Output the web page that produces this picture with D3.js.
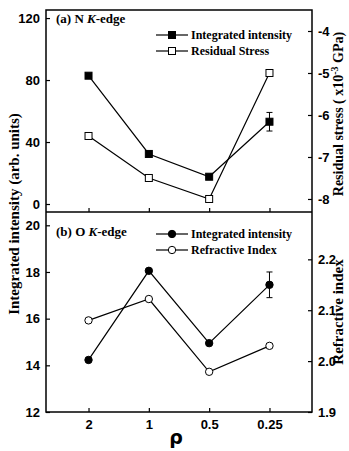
<!DOCTYPE html>
<html><head><meta charset="utf-8">
<script src="https://cdn.jsdelivr.net/npm/d3@7"></script>
<style>
body{margin:0;background:#fff;}
svg{font-family:"Liberation Serif","Times New Roman",serif;font-weight:bold;}
</style></head>
<body>
<script>
const categories = ["2","1","0.5","0.25"];
// Panel (a) N K-edge
const nIntensity = [82.8, 32.3, 17.6, 53.1];
const nIntensityErr = [0, 0, 0, 6];
const residualStress = [-6.5, -7.5, -8.0, -5.0];
// Panel (b) O K-edge
const oIntensity = [14.23, 18.05, 14.95, 17.45];
const oIntensityErr = [0, 0, 0, 0.55];
const refractiveIndex = [2.08, 2.122, 1.979, 2.03];
const ticksALeft = [0, 40, 80, 120];
const ticksARight = [-8, -7, -6, -5, -4];
const ticksBLeft = [12, 14, 16, 18, 20];
const ticksBRight = [1.9, 2.0, 2.1, 2.2];

const W = 349, H = 451;
const L = 46, R = 312, TA = 10, MID = 212, BB = 412;
const svg = d3.select("body").append("svg").attr("width", W).attr("height", H);

const x = d3.scalePoint().domain(categories).range([L, R]).padding(0.705);
const yAL = d3.scaleLinear().domain([-5.16, 125.2]).range([MID, TA]);
const yAR = d3.scaleLinear().domain([-8.31, -3.5]).range([MID, TA]);
const yBL = d3.scaleLinear().domain([12, 20.57]).range([BB, MID]);
const yBR = d3.scaleLinear().domain([1.9, 2.293]).range([BB, MID]);

function axes(top, bottom, yl, yr, tl, tr, fmtL, fmtR, showX) {
  const gl = svg.append("g").attr("transform", `translate(${L},0)`)
    .call(d3.axisRight(yl).tickValues(tl).tickSize(4).tickFormat(fmtL));
  gl.select(".domain").remove();
  gl.selectAll("text").attr("x", -6).attr("text-anchor", "end").attr("font-size", 13).attr("fill", "#000");
  gl.selectAll("line").attr("stroke", "#000").attr("stroke-width", 1.2);
  const gr = svg.append("g").attr("transform", `translate(${R},0)`)
    .call(d3.axisLeft(yr).tickValues(tr).tickSize(4).tickFormat(fmtR));
  gr.select(".domain").remove();
  gr.selectAll("text").attr("x", 6).attr("text-anchor", "start").attr("font-size", 13).attr("fill", "#000");
  gr.selectAll("line").attr("stroke", "#000").attr("stroke-width", 1.2);
  const gx = svg.append("g").attr("transform", `translate(0,${bottom})`)
    .call(d3.axisTop(x).tickSize(4));
  gx.select(".domain").remove();
  gx.selectAll("line").attr("stroke", "#000").attr("stroke-width", 1.2);
  if (showX) {
    gx.selectAll("text").attr("y", 8).attr("dy", "0.71em").attr("font-size", 13).attr("fill", "#000");
  } else gx.selectAll("text").remove();
}

axes(TA, MID, yAL, yAR, ticksALeft, ticksARight, d3.format("d"), d => String(d), false);
axes(MID, BB, yBL, yBR, ticksBLeft, ticksBRight, d3.format("d"), d3.format(".1f"), true);

// Frames
svg.append("rect").attr("x", L).attr("y", TA).attr("width", R - L).attr("height", BB - TA)
  .attr("fill", "none").attr("stroke", "#000").attr("stroke-width", 1.5);
svg.append("line").attr("x1", L).attr("x2", R).attr("y1", MID).attr("y2", MID)
  .attr("stroke", "#000").attr("stroke-width", 1.5);

function series(vals, y, shape, filled, err) {
  const line = d3.line().x((d, i) => x(categories[i])).y(d => y(d));
  svg.append("path").datum(vals).attr("d", line).attr("fill", "none").attr("stroke", "#000").attr("stroke-width", 1.2);
  if (err) {
    vals.forEach((v, i) => {
      if (!err[i]) return;
      const cx = x(categories[i]);
      const g = svg.append("g").attr("stroke", "#000").attr("stroke-width", 1);
      g.append("line").attr("x1", cx).attr("x2", cx).attr("y1", y(v - err[i])).attr("y2", y(v + err[i]));
      [v - err[i], v + err[i]].forEach(e => g.append("line").attr("x1", cx - 3).attr("x2", cx + 3).attr("y1", y(e)).attr("y2", y(e)));
    });
  }
  vals.forEach((v, i) => marker(x(categories[i]), y(v), shape, filled));
}
function marker(cx, cy, shape, filled) {
  if (shape === "sq") {
    svg.append("rect").attr("x", cx - 3.5).attr("y", cy - 3.5).attr("width", 7).attr("height", 7)
      .attr("fill", filled ? "#000" : "#fff").attr("stroke", "#000").attr("stroke-width", 1);
  } else {
    svg.append("circle").attr("cx", cx).attr("cy", cy).attr("r", 3.7)
      .attr("fill", filled ? "#000" : "#fff").attr("stroke", "#000").attr("stroke-width", 1);
  }
}

series(residualStress, yAR, "sq", false);
series(nIntensity, yAL, "sq", true, nIntensityErr);
series(refractiveIndex, yBR, "ci", false);
series(oIntensity, yBL, "ci", true, oIntensityErr);

// Panel titles
function title(tx, ty, pre, it, post) {
  const t = svg.append("text").attr("x", tx).attr("y", ty).attr("font-size", 13).attr("fill", "#000");
  t.append("tspan").text(pre);
  t.append("tspan").attr("font-style", "italic").text(it);
  t.append("tspan").text(post);
}
title(56, 23, "(a) N ", "K", "-edge");
title(56, 236, "(b) O ", "K", "-edge");

// Legends
function legend(lx, ly, shape, filled, label) {
  svg.append("line").attr("x1", lx).attr("x2", lx + 32).attr("y1", ly).attr("y2", ly).attr("stroke", "#000").attr("stroke-width", 1.2);
  marker(lx + 16, ly, shape, filled);
  svg.append("text").attr("x", lx + 35).attr("y", ly + 4).attr("font-size", 12).attr("fill", "#000").text(label);
}
legend(156, 35, "sq", true, "Integrated intensity");
legend(156, 51, "sq", false, "Residual Stress");
legend(156, 234, "ci", true, "Integrated intensity");
legend(156, 250, "ci", false, "Refractive Index");

// Axis titles
svg.append("text").attr("transform", "translate(19,214) rotate(-90)").attr("text-anchor", "middle")
  .attr("font-size", 15).attr("fill", "#000").text("Integrated intensity (arb. units)");
const rt = svg.append("text").attr("transform", "translate(343,114) rotate(-90)").attr("text-anchor", "middle")
  .attr("font-size", 14).attr("fill", "#000");
rt.append("tspan").text("Residual stress  ( x10");
rt.append("tspan").attr("dy", -5).attr("font-size", 10).text("-3");
rt.append("tspan").attr("dy", 5).text(" GPa)");
svg.append("text").attr("transform", "translate(343,312) rotate(-90)").attr("text-anchor", "middle")
  .attr("font-size", 15).attr("fill", "#000").text("Refractive index");
svg.append("text").attr("x", 176).attr("y", 444).attr("text-anchor", "middle")
  .attr("font-family", "DejaVu Sans").attr("font-size", 19).attr("font-weight", "bold").attr("fill", "#000").text("ρ");
</script>
</body></html>
